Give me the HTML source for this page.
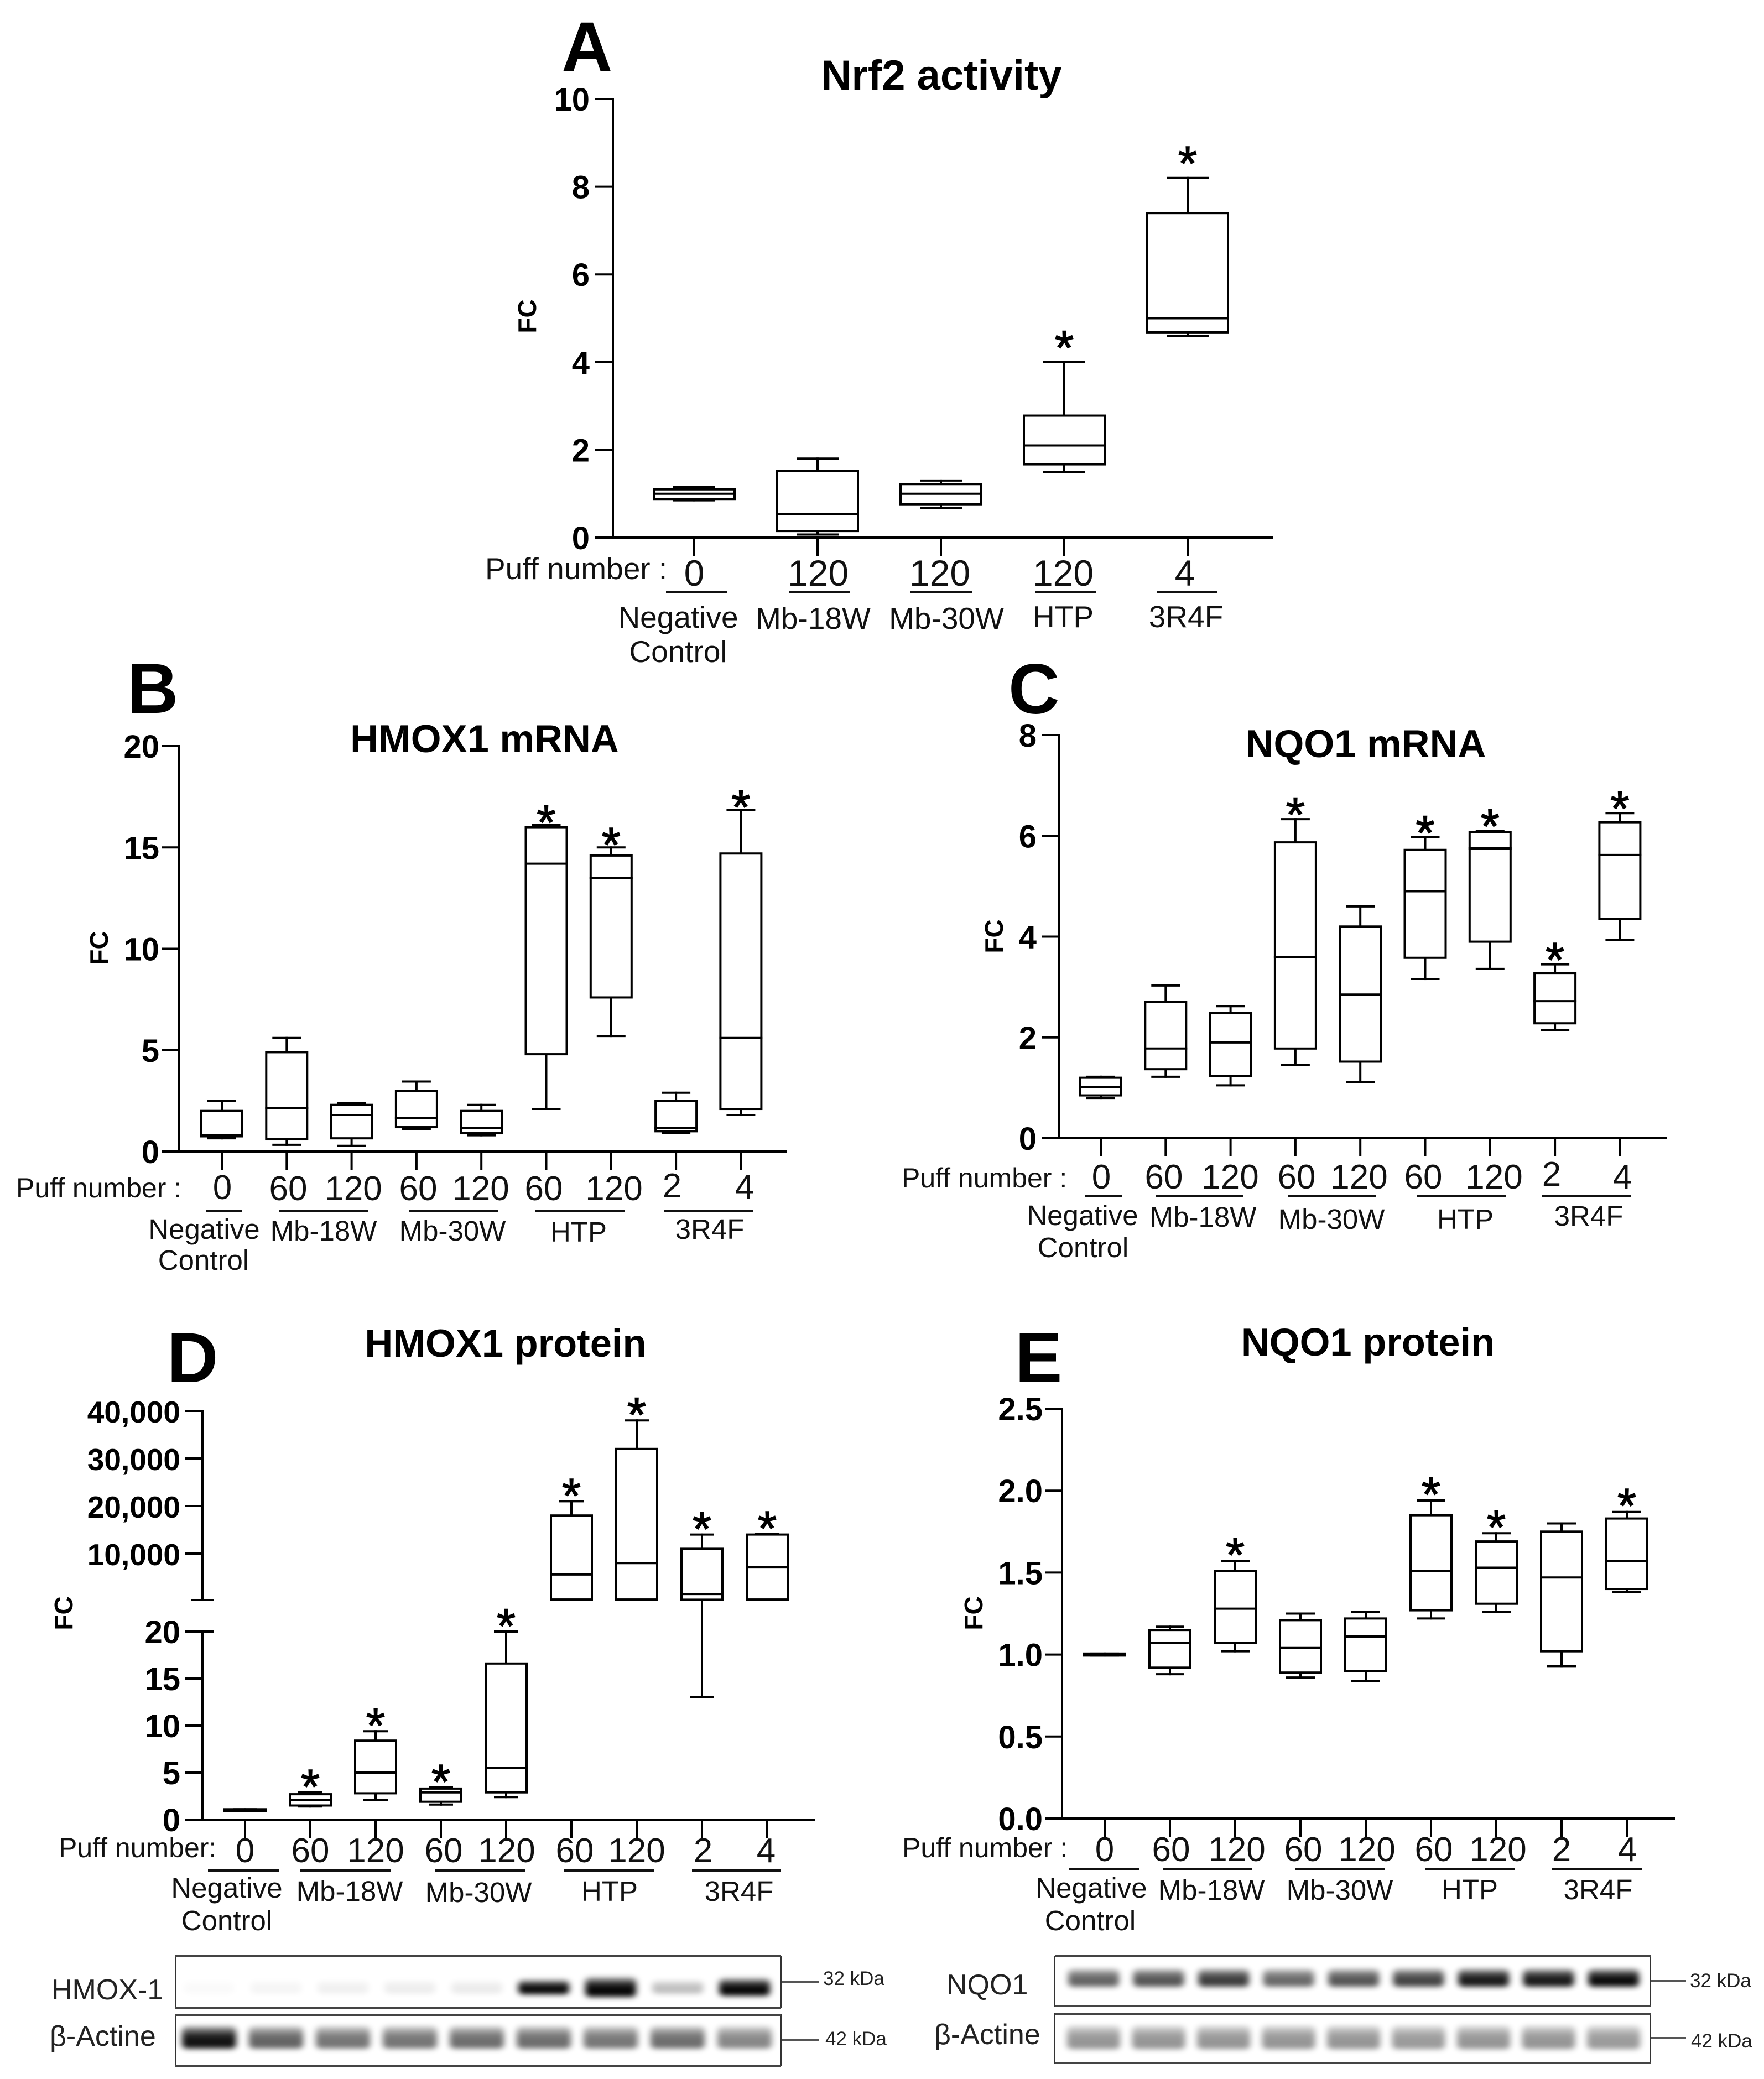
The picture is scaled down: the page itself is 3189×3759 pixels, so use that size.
<!DOCTYPE html>
<html lang="en">
<head>
<meta charset="utf-8">
<title>Nrf2 activity and target gene expression</title>
<style>
html,body{margin:0;padding:0;background:#fff}
svg{display:block}
text{font-family:"Liberation Sans",Arial,sans-serif;fill:#000}
.letter{font-size:128px;font-weight:700}
.title{font-size:70.5px;font-weight:700;text-anchor:middle}
#panel-a .title{font-size:76px}
.tick{font-size:58px;font-weight:700;text-anchor:end}
.tick-wide{font-size:55px}
.fc{font-size:46px;font-weight:700;text-anchor:middle}
.puff{font-size:50px;fill:#111}
#panel-a .puff{font-size:55px}
.num{font-size:62px;text-anchor:middle;fill:#111}
#panel-a .num{font-size:66px}
.grp{font-size:51px;text-anchor:middle;fill:#111}
#panel-a .grp{font-size:55px}
.star{font-size:88px;text-anchor:middle;stroke:#000;stroke-width:1.5px}
.ul{stroke:#111;stroke-width:4}
.blotname{font-size:52px;fill:#222}
.kda{font-size:35px;fill:#222}
.kdaline{stroke:#555;stroke-width:4}
</style>
</head>
<body>
<svg id="figure" xmlns="http://www.w3.org/2000/svg" width="3189" height="3759" viewBox="0 0 3189 3759">
<defs>
<filter id="soft" x="-30%" y="-100%" width="160%" height="300%"><feGaussianBlur stdDeviation="6 5"/></filter>
<linearGradient id="bandFill" x1="0" y1="0" x2="0" y2="1">
<stop offset="0" stop-color="#000" stop-opacity="0.35"/>
<stop offset="0.45" stop-color="#000" stop-opacity="0.95"/>
<stop offset="1" stop-color="#000" stop-opacity="1"/>
</linearGradient>
</defs>
<rect width="3189" height="3759" fill="#fff"/>

<g id="panel-a">
<text class="letter" x="1015" y="129">A</text>
<text class="title" x="1702" y="162">Nrf2 activity</text>
<text class="fc" transform="translate(969,572) rotate(-90)">FC</text>
<text class="puff" x="877" y="1047">Puff number :</text>
<text class="num" x="1255" y="1059">0</text>
<text class="num" x="1479" y="1059">120</text>
<text class="num" x="1699" y="1059">120</text>
<text class="num" x="1922" y="1059">120</text>
<text class="num" x="2142" y="1059">4</text>
<line class="ul" x1="1204" x2="1315" y1="1070" y2="1070"/>
<line class="ul" x1="1426" x2="1537" y1="1070" y2="1070"/>
<line class="ul" x1="1646" x2="1757" y1="1070" y2="1070"/>
<line class="ul" x1="1872" x2="1981" y1="1070" y2="1070"/>
<line class="ul" x1="2091" x2="2201" y1="1070" y2="1070"/>
<text class="grp" x="1226" y="1135">Negative</text>
<text class="grp" x="1226" y="1197">Control</text>
<text class="grp" x="1470" y="1137">Mb-18W</text>
<text class="grp" x="1711" y="1137">Mb-30W</text>
<text class="grp" x="1922" y="1134">HTP</text>
<text class="grp" x="2144" y="1134">3R4F</text>
</g>

<g id="panel-b">
<text class="letter" x="230" y="1289">B</text>
<text class="title" x="876" y="1360">HMOX1 mRNA</text>
<text class="fc" transform="translate(195,1714) rotate(-90)">FC</text>
<text class="puff" x="29" y="2165">Puff number :</text>
<text class="num" x="402" y="2168">0</text>
<text class="num" x="521" y="2170">60</text>
<text class="num" x="639" y="2170">120</text>
<text class="num" x="756" y="2170">60</text>
<text class="num" x="869" y="2170">120</text>
<text class="num" x="983" y="2170">60</text>
<text class="num" x="1110" y="2170">120</text>
<text class="num" x="1215" y="2165">2</text>
<text class="num" x="1346" y="2167">4</text>
<line class="ul" x1="373" x2="438" y1="2189" y2="2189"/>
<line class="ul" x1="505" x2="665" y1="2189" y2="2189"/>
<line class="ul" x1="739" x2="901" y1="2189" y2="2189"/>
<line class="ul" x1="968" x2="1129" y1="2189" y2="2189"/>
<line class="ul" x1="1201" x2="1362" y1="2189" y2="2189"/>
<text class="grp" x="369" y="2240">Negative</text>
<text class="grp" x="368" y="2296">Control</text>
<text class="grp" x="585" y="2243">Mb-18W</text>
<text class="grp" x="818" y="2243">Mb-30W</text>
<text class="grp" x="1046" y="2245">HTP</text>
<text class="grp" x="1283" y="2240">3R4F</text>
</g>

<g id="panel-c">
<text class="letter" x="1823" y="1290">C</text>
<text class="title" x="2469" y="1369">NQO1 mRNA</text>
<text class="fc" transform="translate(1813,1693) rotate(-90)">FC</text>
<text class="puff" x="1630" y="2147">Puff number :</text>
<text class="num" x="1991" y="2149">0</text>
<text class="num" x="2104" y="2149">60</text>
<text class="num" x="2224" y="2149">120</text>
<text class="num" x="2344" y="2149">60</text>
<text class="num" x="2457" y="2149">120</text>
<text class="num" x="2573" y="2149">60</text>
<text class="num" x="2701" y="2149">120</text>
<text class="num" x="2805" y="2144">2</text>
<text class="num" x="2933" y="2149">4</text>
<line class="ul" x1="1961" x2="2028" y1="2162" y2="2162"/>
<line class="ul" x1="2089" x2="2248" y1="2162" y2="2162"/>
<line class="ul" x1="2328" x2="2487" y1="2162" y2="2162"/>
<line class="ul" x1="2561" x2="2722" y1="2162" y2="2162"/>
<line class="ul" x1="2788" x2="2948" y1="2162" y2="2162"/>
<text class="grp" x="1957" y="2215">Negative</text>
<text class="grp" x="1958" y="2273">Control</text>
<text class="grp" x="2175" y="2218">Mb-18W</text>
<text class="grp" x="2407" y="2222">Mb-30W</text>
<text class="grp" x="2649" y="2222">HTP</text>
<text class="grp" x="2872" y="2216">3R4F</text>
</g>

<g id="panel-d">
<text class="letter" x="302" y="2499">D</text>
<text class="title" x="914" y="2453">HMOX1 protein</text>
<text class="fc" transform="translate(131,2917) rotate(-90)">FC</text>
<text class="puff" x="106" y="3358">Puff number:</text>
<text class="num" x="443" y="3367">0</text>
<text class="num" x="561" y="3367">60</text>
<text class="num" x="679" y="3367">120</text>
<text class="num" x="802" y="3367">60</text>
<text class="num" x="916" y="3367">120</text>
<text class="num" x="1039" y="3367">60</text>
<text class="num" x="1151" y="3367">120</text>
<text class="num" x="1271" y="3367">2</text>
<text class="num" x="1385" y="3367">4</text>
<line class="ul" x1="376" x2="505" y1="3382" y2="3382"/>
<line class="ul" x1="543" x2="706" y1="3382" y2="3382"/>
<line class="ul" x1="787" x2="950" y1="3382" y2="3382"/>
<line class="ul" x1="1020" x2="1183" y1="3382" y2="3382"/>
<line class="ul" x1="1251" x2="1412" y1="3382" y2="3382"/>
<text class="grp" x="410" y="3431">Negative</text>
<text class="grp" x="410" y="3490">Control</text>
<text class="grp" x="632" y="3437">Mb-18W</text>
<text class="grp" x="865" y="3439">Mb-30W</text>
<text class="grp" x="1102" y="3437">HTP</text>
<text class="grp" x="1336" y="3437">3R4F</text>
<text class="blotname" x="93" y="3615">HMOX-1</text>
<text class="blotname" x="90" y="3699">β-Actine</text>
<line class="kdaline" x1="1412" x2="1480" y1="3584" y2="3584"/>
<line class="kdaline" x1="1412" x2="1480" y1="3689" y2="3689"/>
<text class="kda" x="1488" y="3589">32 kDa</text>
<text class="kda" x="1492" y="3698">42 kDa</text>
</g>

<g id="panel-e">
<text class="letter" x="1835" y="2499">E</text>
<text class="title" x="2473" y="2451">NQO1 protein</text>
<text class="fc" transform="translate(1776,2917) rotate(-90)">FC</text>
<text class="puff" x="1631" y="3358">Puff number :</text>
<text class="num" x="1997" y="3365">0</text>
<text class="num" x="2117" y="3365">60</text>
<text class="num" x="2236" y="3365">120</text>
<text class="num" x="2356" y="3365">60</text>
<text class="num" x="2471" y="3365">120</text>
<text class="num" x="2592" y="3365">60</text>
<text class="num" x="2708" y="3365">120</text>
<text class="num" x="2823" y="3365">2</text>
<text class="num" x="2942" y="3365">4</text>
<line class="ul" x1="1932" x2="2059" y1="3380" y2="3380"/>
<line class="ul" x1="2102" x2="2263" y1="3380" y2="3380"/>
<line class="ul" x1="2342" x2="2504" y1="3380" y2="3380"/>
<line class="ul" x1="2576" x2="2739" y1="3380" y2="3380"/>
<line class="ul" x1="2806" x2="2968" y1="3380" y2="3380"/>
<text class="grp" x="1973" y="3431">Negative</text>
<text class="grp" x="1971" y="3490">Control</text>
<text class="grp" x="2190" y="3435">Mb-18W</text>
<text class="grp" x="2422" y="3435">Mb-30W</text>
<text class="grp" x="2657" y="3434">HTP</text>
<text class="grp" x="2889" y="3434">3R4F</text>
<text class="blotname" x="1711" y="3606">NQO1</text>
<text class="blotname" x="1689" y="3696">β-Actine</text>
<line class="kdaline" x1="2984" x2="3048" y1="3582" y2="3582"/>
<line class="kdaline" x1="2984" x2="3048" y1="3685" y2="3685"/>
<text class="kda" x="3055" y="3593">32 kDa</text>
<text class="kda" x="3057" y="3702">42 kDa</text>
</g>
</svg>

<script>
// Panel A — Nrf2 activity
const aCategories = ['Negative', 'Mb-18W 120', 'Mb-30W 120', 'HTP 120', '3R4F 4'];
const aTicks = [0, 2, 4, 6, 8, 10];
const aLow  = [0.85, 0.07, 0.68, 1.50, 4.60];
const aQ1   = [0.88, 0.15, 0.76, 1.67, 4.68];
const aMed  = [1.00, 0.53, 1.00, 2.10, 5.00];
const aQ3   = [1.10, 1.52, 1.22, 2.78, 7.40];
const aHigh = [1.15, 1.80, 1.30, 4.00, 8.20];
const aStars = [0, 0, 0, 1, 1];

const nineCategories = ['Negative', 'Mb-18W 60', 'Mb-18W 120', 'Mb-30W 60', 'Mb-30W 120', 'HTP 60', 'HTP 120', '3R4F 2', '3R4F 4'];

// Panel B — HMOX1 mRNA
const bTicks = [0, 5, 10, 15, 20];
const bLow  = [0.65, 0.33, 0.28, 1.10, 0.80, 2.10, 5.70, 0.90, 1.80];
const bQ1   = [0.75, 0.60, 0.65, 1.20, 0.90, 4.80, 7.60, 1.00, 2.10];
const bMed  = [0.80, 2.15, 1.80, 1.65, 1.15, 14.2, 13.5, 1.15, 5.60];
const bQ3   = [2.00, 4.90, 2.30, 3.00, 2.00, 16.0, 14.6, 2.50, 14.7];
const bHigh = [2.50, 5.60, 2.40, 3.45, 2.30, 16.1, 15.0, 2.90, 16.85];
const bStars = [0, 0, 0, 0, 0, 1, 1, 0, 1];

// Panel C — NQO1 mRNA
const cTicks = [0, 2, 4, 6, 8];
const cLow  = [0.80, 1.22, 1.05, 1.45, 1.12, 3.16, 3.36, 2.15, 3.93];
const cQ1   = [0.85, 1.37, 1.23, 1.78, 1.52, 3.58, 3.90, 2.28, 4.35];
const cMed  = [1.02, 1.78, 1.90, 3.60, 2.85, 4.90, 5.75, 2.72, 5.62];
const cQ3   = [1.20, 2.70, 2.48, 5.87, 4.20, 5.72, 6.07, 3.28, 6.27];
const cHigh = [1.22, 3.03, 2.62, 6.33, 4.60, 5.97, 6.10, 3.45, 6.45];
const cStars = [0, 0, 0, 1, 0, 1, 1, 1, 1];

// Panel D — HMOX1 protein (broken axis)
const dTicksLower = [0, 5, 10, 15, 20];
const dTicksUpper = [10000, 20000, 30000, 40000];
const dTickLabelsUpper = ['10,000', '20,000', '30,000', '40,000'];
const dLow  = [0.90, 1.4, 2.1, 1.6, 2.4, 330, 330, 13, 330];
const dQ1   = [0.90, 1.5, 2.8, 1.9, 2.9, 340, 340, 300, 340];
const dMed  = [1.00, 2.1, 5.0, 2.9, 5.5, 5600, 8000, 1500, 7200];
const dQ3   = [1.10, 2.7, 8.4, 3.3, 16.6, 18000, 32000, 11000, 14000];
const dHigh = [1.10, 2.9, 9.4, 3.45, 20, 21000, 38000, 14000, 14100];
const dStars = [0, 1, 1, 1, 1, 1, 1, 1, 1];

// Panel E — NQO1 protein
const eTicks = [0, 0.5, 1, 1.5, 2, 2.5];
const eTickLabels = ['0.0', '0.5', '1.0', '1.5', '2.0', '2.5'];
const eLow  = [0.994, 0.88, 1.02, 0.86, 0.84, 1.22, 1.26, 0.93, 1.38];
const eQ1   = [0.994, 0.92, 1.07, 0.89, 0.90, 1.27, 1.31, 1.02, 1.40];
const eMed  = [1.000, 1.07, 1.28, 1.04, 1.11, 1.51, 1.53, 1.47, 1.57];
const eQ3   = [1.006, 1.15, 1.51, 1.21, 1.22, 1.85, 1.69, 1.75, 1.83];
const eHigh = [1.006, 1.17, 1.57, 1.25, 1.26, 1.94, 1.74, 1.80, 1.87];
const eStars = [0, 0, 1, 0, 0, 1, 1, 0, 1];

// Western blot band intensities (0–1)
const hmoxBand   = [0.02, 0.04, 0.06, 0.07, 0.08, 1.00, 1.00, 0.26, 1.00];
const hmoxBandSize = [0.9, 0.9, 0.9, 0.9, 0.9, 1.0, 1.35, 0.9, 1.2];
const hmoxActin  = [0.95, 0.62, 0.55, 0.55, 0.58, 0.58, 0.54, 0.58, 0.48];
const nqoBand    = [0.62, 0.68, 0.78, 0.60, 0.68, 0.75, 0.92, 0.92, 0.98];
const nqoActin   = [0.42, 0.42, 0.42, 0.42, 0.42, 0.40, 0.42, 0.42, 0.40];

const NS = 'http://www.w3.org/2000/svg';
const svg = document.getElementById('figure');

function node(tag, attrs, parent) {
  const el = document.createElementNS(NS, tag);
  for (const k in attrs) el.setAttribute(k, attrs[k]);
  parent.appendChild(el);
  return el;
}
function linearScale(d0, d1, r0, r1) {
  return v => r0 + (v - d0) * (r1 - r0) / (d1 - d0);
}
function seg(parent, x1, y1, x2, y2, name) {
  const el = node('line', {x1: x1, y1: y1, x2: x2, y2: y2, stroke: '#000', 'stroke-width': 4, 'stroke-linecap': 'square'}, parent);
  
  
  return el;
}
function yTick(parent, axisX, y, tickLen, label, labelRight, extraClass) {
  seg(parent, axisX - tickLen, y, axisX, y, 'y-axis-tick');
  const t = node('text', {class: 'tick' + (extraClass ? ' ' + extraClass : ''), x: labelRight, y: y + 21}, parent);
  t.textContent = label;
  
  
}
function drawBoxes(p) {
  const parent = document.getElementById(p.id);
  const xOf = i => p.x0 + p.step * i;
  // x axis
  seg(parent, p.axisX - p.tickLen, p.yBase, p.xEnd, p.yBase, 'x-axis-line');
  p.cats.forEach((c, i) => {
    seg(parent, xOf(i), p.yBase, xOf(i), p.yBase + 31, 'x-axis-tick');
  });
  // boxes
  p.cats.forEach((c, i) => {
    const g = node('g', {}, parent);
    
    
    const x = xOf(i);
    const yL = p.y(p.low[i]), yQ1 = p.y(p.q1[i]), yM = p.y(p.med[i]), yQ3 = p.y(p.q3[i]), yH = p.y(p.high[i]);
    seg(g, x, yH, x, yQ3, 'whisker-high');
    seg(g, x, yQ1, x, yL, 'whisker-low');
    seg(g, x - p.cap, yH, x + p.cap, yH, 'cap-high');
    seg(g, x - p.cap, yL, x + p.cap, yL, 'cap-low');
    const r = node('rect', {x: x - p.half, y: yQ3, width: p.half * 2, height: yQ1 - yQ3, fill: '#fff', stroke: '#000', 'stroke-width': 4}, g);
    
    
    seg(g, x - p.half, yM, x + p.half, yM, 'median');
    if (p.stars[i]) {
      const s = node('text', {class: 'star', x: x, y: yH + p.starGap}, g);
      s.textContent = '*';
      
      
    }
  });
}
function simplePanel(p) {
  const parent = document.getElementById(p.id);
  const top = p.y(p.ticks[p.ticks.length - 1]);
  seg(parent, p.axisX, top, p.axisX, p.yBase, 'y-axis-line');
  p.ticks.forEach((t, i) => {
    yTick(parent, p.axisX, p.y(t), p.tickLen, p.labels ? p.labels[i] : String(t), p.labelRight);
  });
  drawBoxes(p);
}

simplePanel({id: 'panel-a', cats: aCategories, ticks: aTicks, y: linearScale(0, 10, 972, 179),
  yBase: 972, axisX: 1108, xEnd: 2300, tickLen: 30, labelRight: 1066, x0: 1255, step: 223,
  half: 73, cap: 36, starGap: 4, low: aLow, q1: aQ1, med: aMed, q3: aQ3, high: aHigh, stars: aStars});

simplePanel({id: 'panel-b', cats: nineCategories, ticks: bTicks, y: linearScale(0, 20, 2082, 1349),
  yBase: 2082, axisX: 323, xEnd: 1421, tickLen: 29, labelRight: 288, x0: 401, step: 117.3,
  half: 37, cap: 24, starGap: 25, low: bLow, q1: bQ1, med: bMed, q3: bQ3, high: bHigh, stars: bStars});

simplePanel({id: 'panel-c', cats: nineCategories, ticks: cTicks, y: linearScale(0, 8, 2058, 1329),
  yBase: 2058, axisX: 1914, xEnd: 3011, tickLen: 29, labelRight: 1874, x0: 1990, step: 117.3,
  half: 37, cap: 24, starGap: 22, low: cLow, q1: cQ1, med: cMed, q3: cQ3, high: cHigh, stars: cStars});

simplePanel({id: 'panel-e', cats: nineCategories, ticks: eTicks, labels: eTickLabels, y: linearScale(0, 2.5, 3288, 2547),
  yBase: 3288, axisX: 1920, xEnd: 3026, tickLen: 29, labelRight: 1885, x0: 1997, step: 118,
  half: 37, cap: 24, starGap: 19, low: eLow, q1: eQ1, med: eMed, q3: eQ3, high: eHigh, stars: eStars});

// Panel D: broken y axis
(function () {
  const lower = linearScale(0, 20, 3290, 2950);
  const upper = linearScale(10000, 40000, 2809, 2551);
  const yD = v => v <= 20 ? lower(v) : upper(v);
  const parent = document.getElementById('panel-d');
  const axisX = 366;
  seg(parent, axisX, 2551, axisX, 2893, 'y-axis-upper-line');
  seg(parent, axisX, 2950, axisX, 3290, 'y-axis-lower-line');
  seg(parent, axisX - 19, 2893, axisX + 19, 2893, 'y-axis-break-cap-upper');
  seg(parent, axisX - 19, 2950, axisX + 19, 2950, 'y-axis-break-cap-lower');
  dTicksUpper.forEach((t, i) => yTick(parent, axisX, upper(t), 29, dTickLabelsUpper[i], 326, 'tick-wide'));
  dTicksLower.forEach(t => yTick(parent, axisX, lower(t), 29, String(t), 326));
  drawBoxes({id: 'panel-d', cats: nineCategories, y: yD, yBase: 3290, axisX: axisX, xEnd: 1471, tickLen: 29,
    x0: 443, step: 118, half: 37, cap: 20, starGap: 20, low: dLow, q1: dQ1, med: dMed, q3: dQ3, high: dHigh, stars: dStars});
})();

// Western blots
function drawBlot(cfg) {
  const parent = document.getElementById(cfg.id);
  const g = node('g', {}, parent);
  
  
  const w = cfg.x1 - cfg.x0;
  const frame = node('rect', {x: cfg.x0, y: cfg.y0, width: w, height: cfg.y1 - cfg.y0, fill: '#fff', stroke: '#333', 'stroke-width': 2}, g);
  
  
  cfg.values.forEach((v, i) => {
    const cx = cfg.lane0 + cfg.laneStep * i;
    const k = cfg.sizes ? cfg.sizes[i] : 1;
    const h = cfg.bandH * k;
    const b = node('rect', {x: cx - cfg.bandW / 2, y: cfg.bandY - h / 2, width: cfg.bandW, height: h, rx: 8, fill: 'url(#bandFill)', opacity: v, filter: 'url(#soft)'}, g);
    
    
  });
  const top = node('line', {x1: cfg.x0, x2: cfg.x1, y1: cfg.y0, y2: cfg.y0, stroke: '#444', 'stroke-width': 4}, g);
  
  
  const bot = node('line', {x1: cfg.x0, x2: cfg.x1, y1: cfg.y1, y2: cfg.y1, stroke: '#444', 'stroke-width': 4}, g);
  
  
}
drawBlot({id: 'panel-d', name: 'hmox1-blot', x0: 317, x1: 1412, y0: 3537, y1: 3630, lane0: 378, laneStep: 121, bandW: 92, bandH: 26, bandY: 3593, values: hmoxBand, sizes: hmoxBandSize});
drawBlot({id: 'panel-d', name: 'hmox1-actin-blot', x0: 317, x1: 1412, y0: 3643, y1: 3735, lane0: 378, laneStep: 121, bandW: 98, bandH: 40, bandY: 3684, values: hmoxActin});
drawBlot({id: 'panel-e', name: 'nqo1-blot', x0: 1907, x1: 2984, y0: 3537, y1: 3627, lane0: 1977, laneStep: 117.5, bandW: 92, bandH: 32, bandY: 3576, values: nqoBand});
drawBlot({id: 'panel-e', name: 'nqo1-actin-blot', x0: 1907, x1: 2984, y0: 3641, y1: 3730, lane0: 1977, laneStep: 117.5, bandW: 96, bandH: 42, bandY: 3684, values: nqoActin});
</script>
</body>
</html>
